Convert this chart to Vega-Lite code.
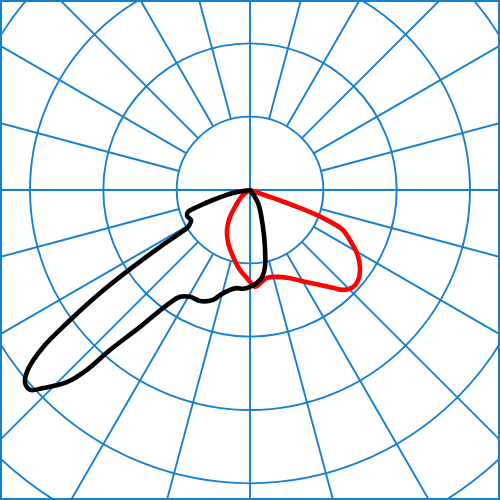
{
  "$schema": "https://vega.github.io/schema/vega-lite/v6.json",
  "width": 500,
  "height": 500,
  "padding": 0,
  "autosize": {"type": "none"},
  "background": "white",
  "config": {"view": {"stroke": "#1580d0", "strokeWidth": 4}},
  "datasets": {
    "rings": [{"r": 100}, {"r": 200}, {"r": 300}, {"r": 400}, {"r": 500}],
    "spokes": [
      {"angle": 0, "r0": 0}, {"angle": 15, "r0": 100}, {"angle": 30, "r0": 100}, {"angle": 45, "r0": 100},
      {"angle": 60, "r0": 100}, {"angle": 75, "r0": 100}, {"angle": 90, "r0": 0}, {"angle": 105, "r0": 100},
      {"angle": 120, "r0": 100}, {"angle": 135, "r0": 100}, {"angle": 150, "r0": 100}, {"angle": 165, "r0": 100},
      {"angle": 180, "r0": 0}, {"angle": 195, "r0": 100}, {"angle": 210, "r0": 100}, {"angle": 225, "r0": 100},
      {"angle": 240, "r0": 100}, {"angle": 255, "r0": 100}, {"angle": 270, "r0": 0}, {"angle": 285, "r0": 100},
      {"angle": 300, "r0": 100}, {"angle": 315, "r0": 100}, {"angle": 330, "r0": 100}, {"angle": 345, "r0": 100}
    ],
    "black": [
      {"i": 1, "angle": -90, "cd": 0}, {"i": 2, "angle": -80, "cd": 23.6}, {"i": 3, "angle": -74.9, "cd": 52.3},
      {"i": 4, "angle": -72.2, "cd": 75.9}, {"i": 5, "angle": -70.5, "cd": 89.7}, {"i": 6, "angle": -67.6, "cd": 93},
      {"i": 7, "angle": -63.1, "cd": 90.3}, {"i": 8, "angle": -59.2, "cd": 98.5}, {"i": 9, "angle": -58.4, "cd": 112},
      {"i": 10, "angle": -57.7, "cd": 145}, {"i": 11, "angle": -56.7, "cd": 191}, {"i": 12, "angle": -55.5, "cd": 248},
      {"i": 13, "angle": -54, "cd": 308}, {"i": 14, "angle": -52.8, "cd": 354}, {"i": 15, "angle": -51, "cd": 390},
      {"i": 16, "angle": -49.4, "cd": 404}, {"i": 17, "angle": -47.7, "cd": 405}, {"i": 18, "angle": -46.3, "cd": 391},
      {"i": 19, "angle": -43.6, "cd": 362}, {"i": 20, "angle": -42.2, "cd": 331}, {"i": 21, "angle": -41.2, "cd": 290},
      {"i": 22, "angle": -38.8, "cd": 240}, {"i": 23, "angle": -35.8, "cd": 193}, {"i": 24, "angle": -33.2, "cd": 174},
      {"i": 25, "angle": -29.3, "cd": 167}, {"i": 26, "angle": -24.2, "cd": 166}, {"i": 27, "angle": -18.6, "cd": 158},
      {"i": 28, "angle": -15.9, "cd": 149}, {"i": 29, "angle": -11.3, "cd": 139}, {"i": 30, "angle": -7.6, "cd": 135},
      {"i": 31, "angle": -4, "cd": 135}, {"i": 32, "angle": 0, "cd": 132}, {"i": 33, "angle": 4.3, "cd": 127},
      {"i": 34, "angle": 7.9, "cd": 120}, {"i": 35, "angle": 11, "cd": 107}, {"i": 36, "angle": 14.7, "cd": 80},
      {"i": 37, "angle": 19.4, "cd": 53}, {"i": 38, "angle": 31.6, "cd": 21}, {"i": 39, "angle": 31.6, "cd": 0}
    ],
    "red": [
      {"i": 1, "angle": 90, "cd": 0}, {"i": 2, "angle": 70.8, "cd": 33}, {"i": 3, "angle": 70.2, "cd": 72},
      {"i": 4, "angle": 69, "cd": 107}, {"i": 5, "angle": 66.7, "cd": 138}, {"i": 6, "angle": 63.4, "cd": 152},
      {"i": 7, "angle": 59.5, "cd": 169}, {"i": 8, "angle": 55, "cd": 183}, {"i": 9, "angle": 50.2, "cd": 192},
      {"i": 10, "angle": 46.7, "cd": 193}, {"i": 11, "angle": 42.9, "cd": 186}, {"i": 12, "angle": 40.3, "cd": 175},
      {"i": 13, "angle": 36.4, "cd": 161}, {"i": 14, "angle": 31.8, "cd": 148}, {"i": 15, "angle": 24.4, "cd": 132},
      {"i": 16, "angle": 17.2, "cd": 124}, {"i": 17, "angle": 10.9, "cd": 122}, {"i": 18, "angle": 6.1, "cd": 128},
      {"i": 19, "angle": 3, "cd": 132}, {"i": 20, "angle": -2, "cd": 120}, {"i": 21, "angle": -7.1, "cd": 110},
      {"i": 22, "angle": -14.2, "cd": 94}, {"i": 23, "angle": -22.5, "cd": 78}, {"i": 24, "angle": -29.9, "cd": 63},
      {"i": 25, "angle": -36.5, "cd": 46}, {"i": 26, "angle": -41.4, "cd": 31}, {"i": 27, "angle": -54.5, "cd": 12},
      {"i": 28, "angle": -54.5, "cd": 0}
    ]
  },
  "layer": [
    {
      "data": {"name": "rings"},
      "transform": [{"calculate": "0", "as": "cx"}, {"calculate": "0", "as": "cy"}],
      "mark": {"type": "point", "shape": "circle", "filled": false, "color": "#1580d0", "strokeWidth": 1.9, "opacity": 1, "clip": true},
      "encoding": {
        "x": {"field": "cx", "type": "quantitative", "scale": {"domain": [-340.91, 340.91], "nice": false, "zero": false}, "axis": null},
        "y": {"field": "cy", "type": "quantitative", "scale": {"domain": [-422.73, 259.09], "nice": false, "zero": false}, "axis": null},
        "size": {"field": "r", "type": "quantitative", "scale": {"type": "pow", "exponent": 2, "domain": [0, 500], "range": [0, 537778]}, "legend": null}
      }
    },
    {
      "data": {"name": "spokes"},
      "transform": [
        {"calculate": "datum.r0*sin(datum.angle*PI/180)", "as": "x"},
        {"calculate": "-datum.r0*cos(datum.angle*PI/180)", "as": "y"},
        {"calculate": "600*sin(datum.angle*PI/180)", "as": "x2"},
        {"calculate": "-600*cos(datum.angle*PI/180)", "as": "y2"}
      ],
      "mark": {"type": "rule", "color": "#1580d0", "strokeWidth": 1.9, "clip": true},
      "encoding": {
        "x": {"field": "x", "type": "quantitative"},
        "y": {"field": "y", "type": "quantitative"},
        "x2": {"field": "x2"},
        "y2": {"field": "y2"}
      }
    },
    {
      "data": {"name": "red"},
      "transform": [
        {"calculate": "datum.cd*sin(datum.angle*PI/180)", "as": "x"},
        {"calculate": "-datum.cd*cos(datum.angle*PI/180)", "as": "y"}
      ],
      "mark": {"type": "line", "color": "#ff0000", "strokeWidth": 4.6, "strokeJoin": "round", "strokeCap": "round", "interpolate": "catmull-rom", "clip": true},
      "encoding": {
        "x": {"field": "x", "type": "quantitative"},
        "y": {"field": "y", "type": "quantitative"},
        "order": {"field": "i", "type": "quantitative"}
      }
    },
    {
      "data": {"name": "black"},
      "transform": [
        {"calculate": "datum.cd*sin(datum.angle*PI/180)", "as": "x"},
        {"calculate": "-datum.cd*cos(datum.angle*PI/180)", "as": "y"}
      ],
      "mark": {"type": "line", "color": "#000000", "strokeWidth": 4.6, "strokeJoin": "round", "strokeCap": "round", "interpolate": "catmull-rom", "clip": true},
      "encoding": {
        "x": {"field": "x", "type": "quantitative"},
        "y": {"field": "y", "type": "quantitative"},
        "order": {"field": "i", "type": "quantitative"}
      }
    }
  ]
}
